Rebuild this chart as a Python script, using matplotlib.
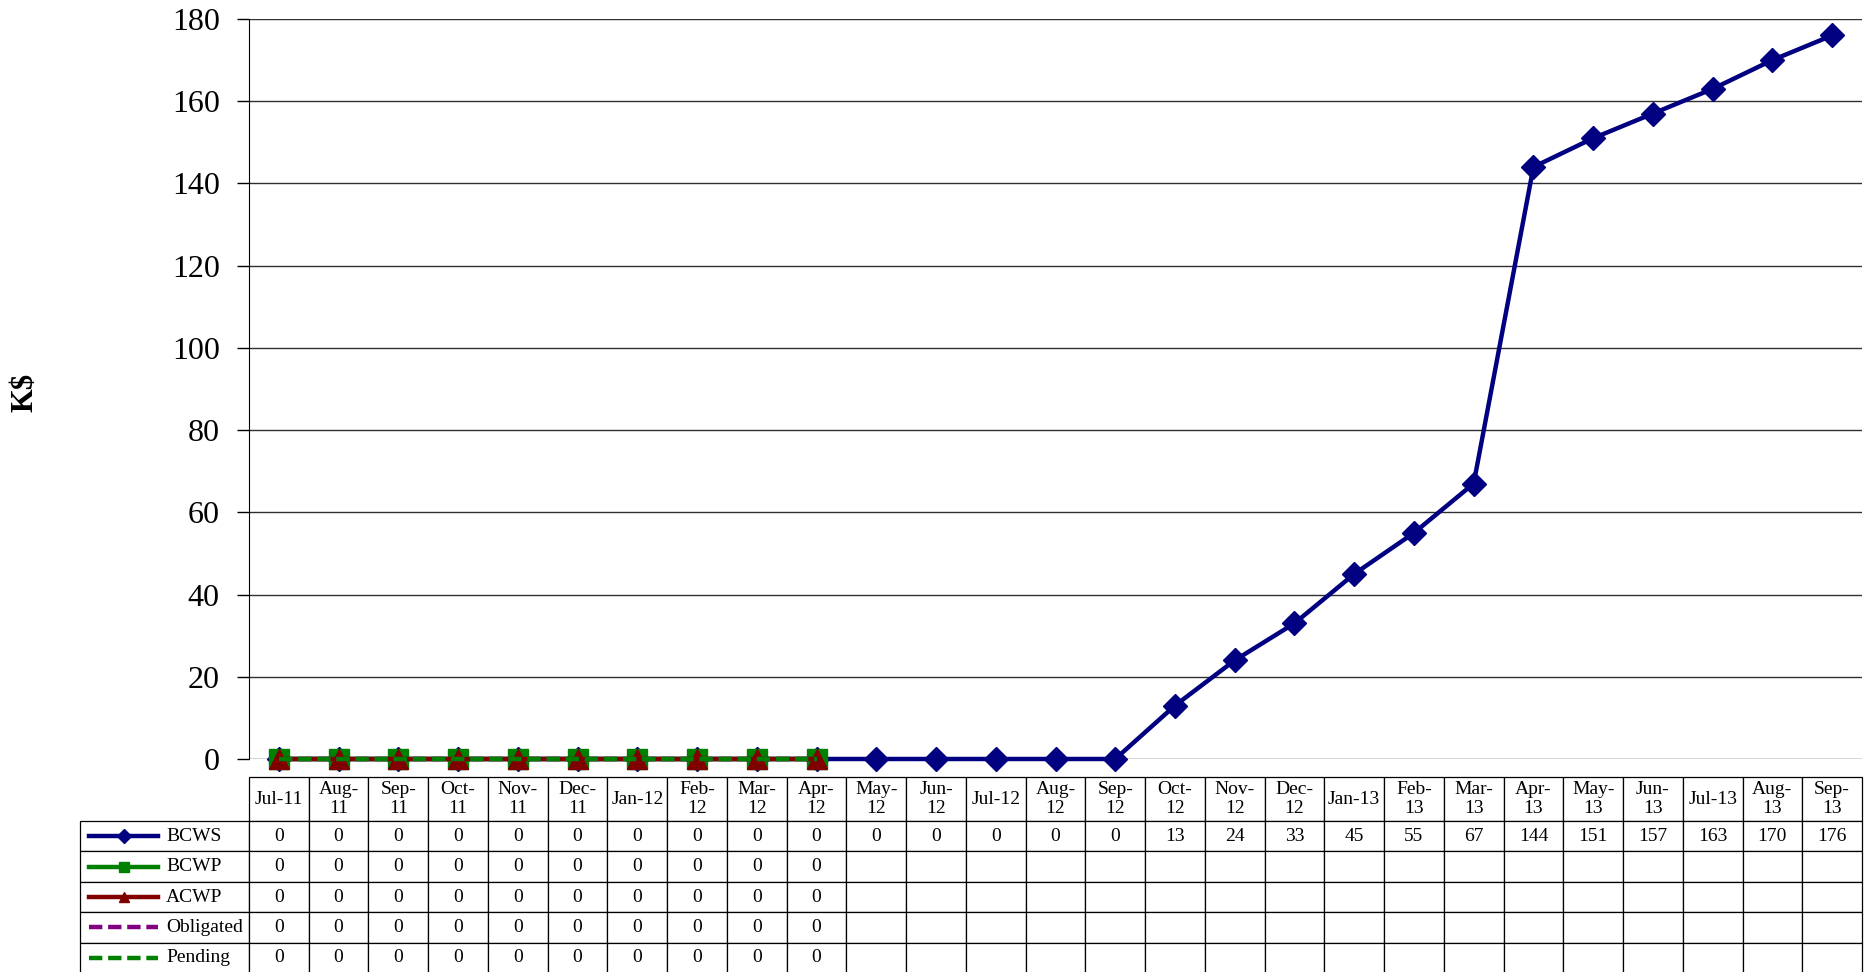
import numpy as np
import matplotlib.pyplot as plt
from matplotlib.lines import Line2D

plt.rcParams['font.family'] = ['Liberation Serif', 'DejaVu Serif']

# Monthly data, K$
months = ['Jul-11', 'Aug-11', 'Sep-11', 'Oct-11', 'Nov-11', 'Dec-11', 'Jan-12',
          'Feb-12', 'Mar-12', 'Apr-12', 'May-12', 'Jun-12', 'Jul-12', 'Aug-12',
          'Sep-12', 'Oct-12', 'Nov-12', 'Dec-12', 'Jan-13', 'Feb-13', 'Mar-13',
          'Apr-13', 'May-13', 'Jun-13', 'Jul-13', 'Aug-13', 'Sep-13']
bcws = [0, 0, 0, 0, 0, 0, 0, 0, 0, 0, 0, 0, 0, 0, 0,
        13, 24, 33, 45, 55, 67, 144, 151, 157, 163, 170, 176]
bcwp = [0, 0, 0, 0, 0, 0, 0, 0, 0, 0]
acwp = [0, 0, 0, 0, 0, 0, 0, 0, 0, 0]
obligated = [0, 0, 0, 0, 0, 0, 0, 0, 0, 0]
pending = [0, 0, 0, 0, 0, 0, 0, 0, 0, 0]

series_names = ['BCWS', 'BCWP', 'ACWP', 'Obligated', 'Pending']
series_vals = [bcws, bcwp, acwp, obligated, pending]
styles = [
    dict(color='#000080', marker='D', ms=12, ls='-'),
    dict(color='#008000', marker='s', ms=14.5, ls='-'),
    dict(color='#800000', marker='^', ms=14.5, ls='-'),
    dict(color='#800080', marker='', ms=0, ls=(0, (3, 1.3))),
    dict(color='#008000', marker='', ms=0, ls=(0, (3, 1.3))),
]

W, H = 1873, 972
fig = plt.figure(figsize=(W / 100, H / 100), dpi=100)

# plot area in pixel coordinates
left, right, top, zero = 249, 1862, 19, 759
ax = fig.add_axes([left / W, 1 - zero / H, (right - left) / W, (zero - top) / H])

for i, (vals, st) in enumerate(zip(series_vals, styles)):
    x = np.arange(len(vals))
    ax.plot(x, vals, color=st['color'], lw=3.2, ls=st['ls'], marker=st['marker'],
            ms=st['ms'], mec=st['color'], mew=1, zorder=3 + i, clip_on=False)

ax.set_xlim(-0.5, len(months) - 0.5)
ax.set_ylim(0, 180)
ax.set_yticks(np.arange(0, 181, 20))
ax.set_xticks([])
ax.yaxis.grid(True, color='#303030', lw=1)
ax.set_axisbelow(True)
for s in ['top', 'right', 'bottom']:
    ax.spines[s].set_visible(False)
ax.spines['left'].set_color('black')
ax.tick_params(axis='y', labelsize=23, length=9, width=1, pad=12, direction='out')

fig.text(25 / W, 1 - 392 / H, 'K$', rotation=90, fontsize=22, fontweight='bold',
         ha='center', va='center')

# data table under the chart; the row-label column hangs out to the left
t_left, t_top, t_bottom = 80, 777, 973
head_h, row_h = 44, 30.4
span_w = right - left
span_h = t_bottom - t_top
label_w = (left - t_left) / span_w

tax = fig.add_axes([left / W, 1 - t_bottom / H, span_w / W, span_h / H])
tax.axis('off')

col_labels = [m if m[:3] in ('Jan', 'Jul') else m.replace('-', '-\n') for m in months]
cell_text = []
for vals in series_vals:
    cell_text.append([str(v) for v in vals] + [''] * (len(months) - len(vals)))

table = tax.table(cellText=cell_text, colLabels=col_labels,
                  cellLoc='center', colLoc='center', bbox=[0, 0, 1, 1])
for r, name in enumerate(series_names, start=1):
    cell = table.add_cell(r, -1, width=label_w, height=row_h / span_h,
                          text=name, loc='left')
    cell.PAD = 0.509
table.auto_set_font_size(False)
table.set_fontsize(14)
for (r, c), cell in table.get_celld().items():
    cell.set_edgecolor('black')
    cell.set_linewidth(0.9)
    cell.set_height((head_h if r == 0 else row_h) / span_h)
    cell.set_width(label_w if c == -1 else 1 / len(months))
    cell.get_text().set_linespacing(1.15)

# legend line samples in the row label cells
for i, st in enumerate(styles):
    yc = 1 - (t_top + head_h + row_h * (i + 0.5)) / H
    x0, x1 = 89 / W, 158 / W
    fig.add_artist(Line2D([x0, x1], [yc, yc], color=st['color'], lw=3.2, ls=st['ls'],
                          transform=fig.transFigure))
    if st['marker']:
        fig.add_artist(Line2D([(x0 + x1) / 2], [yc], marker=st['marker'], ms=7,
                              color=st['color'], transform=fig.transFigure))

fig.savefig('out.png', dpi=100)
